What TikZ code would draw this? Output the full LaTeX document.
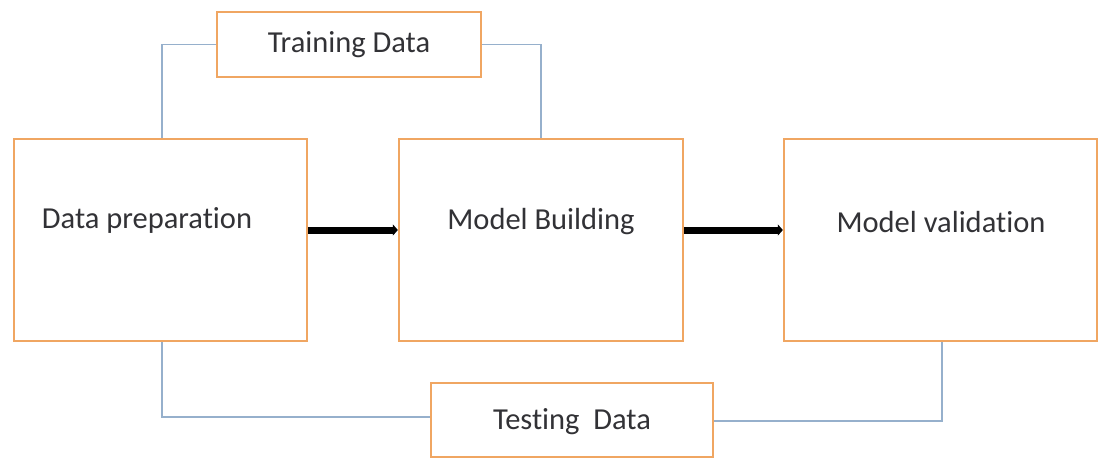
\documentclass[tikz,border=0pt]{standalone}
\usepackage{fontspec}
\setmainfont{Carlito}[Ligatures=NoCommon]
\usetikzlibrary{arrows.meta}
\definecolor{boxorange}{RGB}{240,166,98}
\definecolor{linkblue}{RGB}{150,176,204}
\definecolor{txtgray}{RGB}{50,50,54}
\tikzset{
  box/.style={draw=boxorange, line width=2.3pt, fill=white, inner sep=0pt},
  lbl/.style={text=txtgray, font=\fontsize{30.5}{34}\selectfont, inner sep=0pt},
  link/.style={draw=linkblue, line width=1.6pt},
  flow/.style={draw=black, line width=7pt, -{Triangle[length=5pt,width=11pt]}}
}
\begin{document}
\begin{tikzpicture}[x=1pt,y=-1pt]
\useasboundingbox (0,0) rectangle (1100,459);
% boxes
\node[box, minimum width=264pt, minimum height=65pt] (train) at (349,44.5) {};
\node[box, minimum width=293pt, minimum height=202pt] (prep) at (160.5,240) {};
\node[box, minimum width=284pt, minimum height=202pt] (build) at (541,240) {};
\node[box, minimum width=313pt, minimum height=202pt] (val) at (940.5,240) {};
\node[box, minimum width=282pt, minimum height=74pt] (test) at (572,420) {};
% labels
\node[lbl] (tprep) at (147,220) {Data preparation};
\node[lbl] (tbuild) at (541,222) {Model Building};
\node[lbl] (tval) at (941,222) {Model validation};
\node[lbl] (ttrain) at (349,45) {Training Data};
\node[lbl] (ttest) at (572,422) {Testing\ \ Data};
% connectors
\coordinate (pl) at (162,417);
\coordinate (vr) at (942,421);
\draw[link] (train.west) -| ([xshift=1.5pt]prep.north);
\draw[link] (train.east) -| (build.north);
\draw[link] ([xshift=1.5pt]prep.south) -- (pl) -- (test.west |- pl);
\draw[link] ([xshift=1.5pt]val.south) -- (vr) -- (test.east |- vr);
% flow arrows
\draw[flow] (prep.east |- 0,230) -- (build.west |- 0,230);
\draw[flow] (build.east |- 0,230) -- (val.west |- 0,230);
\end{tikzpicture}
\end{document}
